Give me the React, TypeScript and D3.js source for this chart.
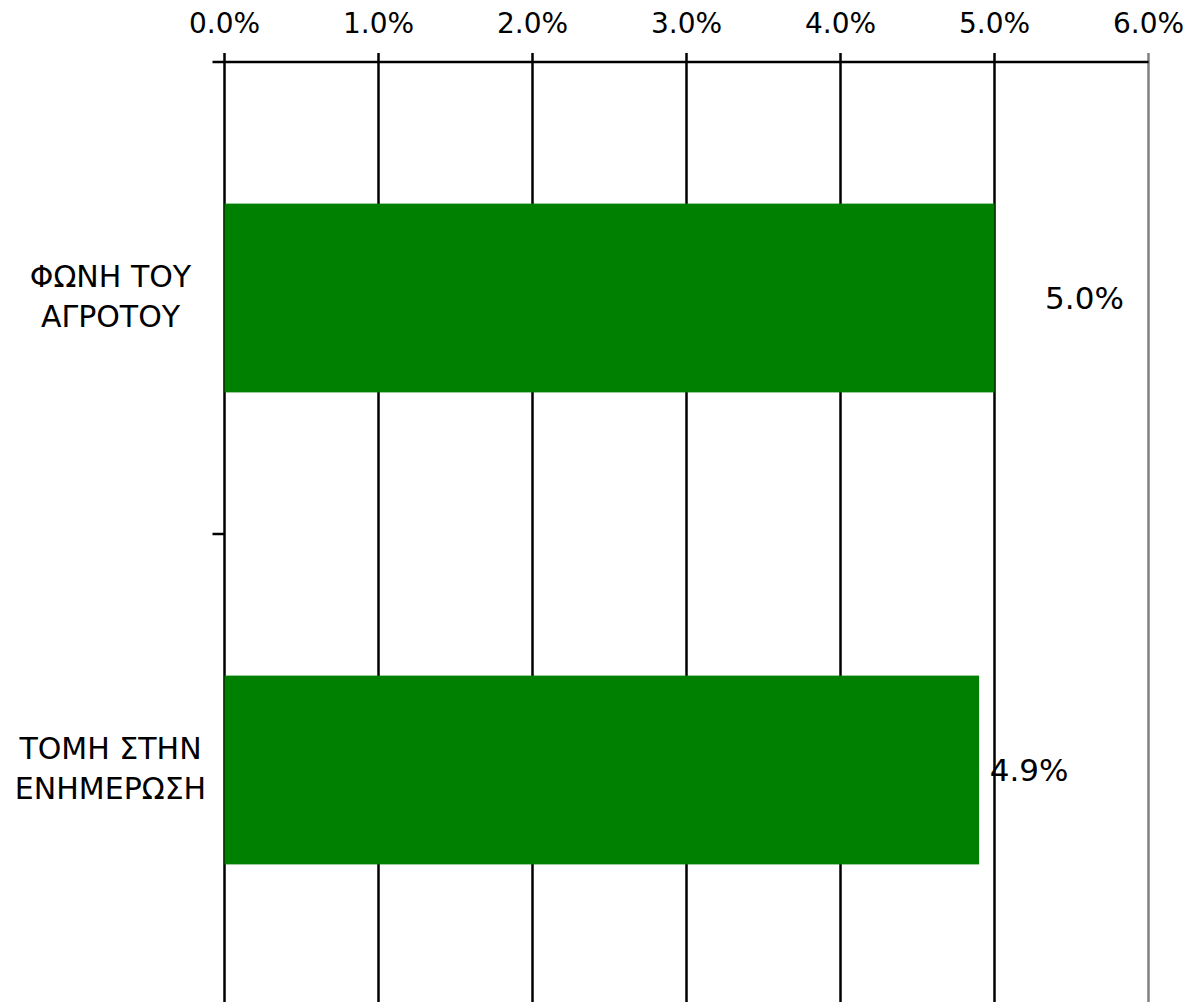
import React, { useEffect, useRef } from "react";
import * as d3 from "d3";

// Chart data
const categories = [["ΦΩΝΗ ΤΟΥ", "ΑΓΡΟΤΟΥ"], ["ΤΟΜΗ ΣΤΗΝ", "ΕΝΗΜΕΡΩΣΗ"]];
const values = [5.0, 4.9];
const tickValues = [0, 1, 2, 3, 4, 5, 6];
const valueLabels = ["5.0%", "4.9%"];

export default function App() {
  const ref = useRef<SVGSVGElement>(null);

  useEffect(() => {
    const width = 1189,
      height = 1002,
      margin = { top: 62, left: 224.5, right: 40.5, bottom: -4 };

    const svg = d3.select(ref.current);
    svg.selectAll("*").remove();

    const font = "'DejaVu Sans', Verdana, sans-serif";

    // Scales
    const x = d3
      .scaleLinear()
      .domain([0, 6])
      .range([margin.left, width - margin.right]);

    const keys = categories.map((c) => c.join(" "));
    const y = d3
      .scaleBand()
      .domain(keys)
      .range([margin.top, height - margin.bottom])
      .paddingInner(0.6)
      .paddingOuter(0.3);

    const step = y.step();

    // Vertical gridlines, last one gray
    svg
      .append("g")
      .selectAll("line")
      .data(tickValues)
      .enter()
      .append("line")
      .attr("x1", (d) => x(d))
      .attr("x2", (d) => x(d))
      .attr("y1", margin.top - 9)
      .attr("y2", height)
      .attr("stroke", (d) => (d === 6 ? "#808080" : "#000"))
      .attr("stroke-width", 2.5);

    // Bars
    svg
      .append("g")
      .selectAll("rect")
      .data(values)
      .enter()
      .append("rect")
      .attr("x", x(0))
      .attr("y", (d, i) => y(keys[i]) as number)
      .attr("width", (d) => x(d) - x(0))
      .attr("height", y.bandwidth())
      .attr("fill", "#008000");

    // Top axis line
    svg
      .append("line")
      .attr("x1", margin.left - 12)
      .attr("x2", x(6))
      .attr("y1", margin.top)
      .attr("y2", margin.top)
      .attr("stroke", "#000")
      .attr("stroke-width", 2.5);

    // Category separator ticks
    svg
      .append("g")
      .selectAll("line")
      .data(keys.slice(1))
      .enter()
      .append("line")
      .attr("x1", margin.left - 12)
      .attr("x2", margin.left)
      .attr("y1", (d) => (y(d) as number) - (step - y.bandwidth()) / 2)
      .attr("y2", (d) => (y(d) as number) - (step - y.bandwidth()) / 2)
      .attr("stroke", "#000")
      .attr("stroke-width", 2.5);

    // Tick labels
    svg
      .append("g")
      .selectAll("text")
      .data(tickValues)
      .enter()
      .append("text")
      .attr("x", (d) => x(d))
      .attr("y", 33)
      .attr("text-anchor", "middle")
      .attr("font-family", font)
      .attr("font-size", 28)
      .attr("fill", "#000")
      .text((d) => d3.format(".1f")(d) + "%");

    // Category labels (two lines, centered)
    const cat = svg
      .append("g")
      .selectAll("text")
      .data(categories)
      .enter()
      .append("text")
      .attr("text-anchor", "middle")
      .attr("font-family", font)
      .attr("font-size", 30)
      .attr("fill", "#000")
      .attr("transform", (d, i) => {
        const cy = (y(keys[i]) as number) + y.bandwidth() / 2;
        return `translate(${margin.left - 114},${cy})`;
      });
    cat
      .selectAll("tspan")
      .data((d) => d)
      .enter()
      .append("tspan")
      .attr("x", 0)
      .attr("y", (d, i) => (i === 0 ? -11 : 29))
      .text((d) => d);

    // Value labels
    const labelOffsets = [90, 50];
    svg
      .append("g")
      .selectAll("text")
      .data(values)
      .enter()
      .append("text")
      .attr("x", (d, i) => x(d) + labelOffsets[i])
      .attr("y", (d, i) => (y(keys[i]) as number) + y.bandwidth() / 2 + 11)
      .attr("text-anchor", "middle")
      .attr("font-family", font)
      .attr("font-size", 31)
      .attr("fill", "#000")
      .text((d, i) => valueLabels[i]);
  }, []);

  return (
    <svg
      ref={ref}
      width={1189}
      height={1002}
      style={{ position: "absolute", left: 0, top: 0, background: "#fff" }}
    ></svg>
  );
}
